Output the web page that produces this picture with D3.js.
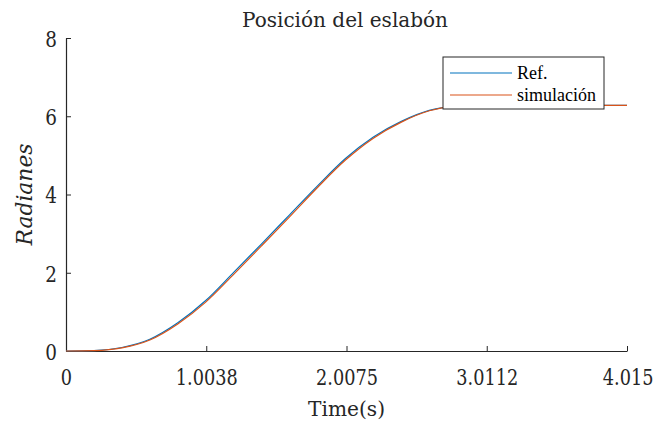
<!DOCTYPE html>
<html>
<head>
<meta charset="utf-8">
<script src="https://cdn.jsdelivr.net/npm/d3@7"></script>
<style>
  body { margin: 0; background: #fff; }
  svg text { font-family: "DejaVu Serif", serif; fill: #262626; }
  svg text.legend { font-family: "Liberation Serif", "Times New Roman", serif; font-size: 18px; fill: #000; }
</style>
</head>
<body>
<svg id="chart"></svg>
<script>
const W = 655, H = 423;
const margin = {top: 38, right: 28, bottom: 72, left: 66};
const width = W - margin.left - margin.right;
const height = H - margin.top - margin.bottom;

// data
const time = [0, 0.2, 0.4, 0.6, 0.8, 1.0, 1.2, 1.4, 1.6, 1.8, 2.0, 2.2, 2.4, 2.6, 2.8, 3.0, 3.2, 3.4, 3.6, 3.8, 4.0, 4.015];
const refPos = [0, 0.01, 0.09, 0.30, 0.72, 1.29, 2.01, 2.74, 3.48, 4.22, 4.92, 5.47, 5.87, 6.15, 6.26, 6.28, 6.28, 6.28, 6.28, 6.28, 6.28, 6.28];
const simPos = [0, 0.01, 0.08, 0.28, 0.69, 1.25, 1.96, 2.69, 3.43, 4.18, 4.88, 5.44, 5.85, 6.14, 6.26, 6.28, 6.28, 6.28, 6.28, 6.28, 6.28, 6.28];
const xTicks = [0, 1.0038, 2.0075, 3.0112, 4.015];
const xTickLabels = ["0", "1.0038", "2.0075", "3.0112", "4.015"];
const yTicks = [0, 2, 4, 6, 8];
const seriesNames = ["Ref.", "simulación"];
const seriesColors = ["#0072BD", "#D95319"];

const svg = d3.select("#chart")
    .attr("width", W)
    .attr("height", H);

const g = svg.append("g")
    .attr("transform", `translate(${margin.left},${margin.top})`);

const x = d3.scaleLinear().domain([0, 4.015]).range([0, width]);
const y = d3.scaleLinear().domain([0, 8]).range([height, 0]);

// DejaVu Serif is wider than the Times-like original, squeeze it
function squeeze(sel, k) {
    sel.each(function() {
        const len = this.getComputedTextLength();
        d3.select(this)
            .attr("textLength", len * k)
            .attr("lengthAdjust", "spacingAndGlyphs");
    });
}

// axes, ticks pointing inward
const xAxis = g.append("g")
    .attr("transform", `translate(0,${height})`)
    .call(d3.axisBottom(x).tickValues(xTicks).tickFormat((d, i) => xTickLabels[i]).tickSizeInner(-5).tickSizeOuter(0));
const yAxis = g.append("g")
    .call(d3.axisLeft(y).tickValues(yTicks).tickFormat(d3.format("d")).tickSizeInner(-5).tickSizeOuter(0));

[xAxis, yAxis].forEach(a => {
    a.attr("font-family", null).attr("font-size", null);
    a.select(".domain").attr("stroke", "#262626").attr("stroke-width", 1.2);
    a.selectAll(".tick line").attr("stroke", "#262626").attr("stroke-width", 1);
    a.selectAll(".tick text")
        .style("font-size", "23px")
        .attr("fill", "#262626");
});
xAxis.selectAll(".tick text").attr("y", 34).attr("dy", null);
yAxis.selectAll(".tick text").attr("x", -9).attr("dy", "0.36em");
squeeze(xAxis.selectAll(".tick text"), 0.77);
squeeze(yAxis.selectAll(".tick text"), 0.8);

// last x label sits against the right edge, anchor it at its end
xAxis.selectAll(".tick text")
    .filter((d, i) => i === xTicks.length - 1)
    .attr("text-anchor", "end")
    .attr("x", 26);

// lines
const line = d3.line()
    .x((d, i) => x(time[i]))
    .y(d => y(d))
    .curve(d3.curveMonotoneX);

[refPos, simPos].forEach((s, k) => {
    g.append("path")
        .datum(s)
        .attr("fill", "none")
        .attr("stroke", seriesColors[k])
        .attr("stroke-width", 1.2)
        .attr("d", line);
});

// title and labels
svg.append("text")
    .attr("x", 345)
    .attr("y", 27)
    .attr("text-anchor", "middle")
    .style("font-size", "20px")
    .attr("fill", "#000")
    .attr("textLength", 206)
    .attr("lengthAdjust", "spacingAndGlyphs")
    .text("Posición del eslabón");

svg.append("text")
    .attr("x", margin.left + width / 2)
    .attr("y", 416)
    .attr("text-anchor", "middle")
    .style("font-size", "21px")
    .attr("textLength", 77)
    .attr("lengthAdjust", "spacingAndGlyphs")
    .text("Time(s)");

svg.append("text")
    .attr("transform", `translate(32,${margin.top + height / 2}) rotate(-90)`)
    .attr("text-anchor", "middle")
    .style("font-size", "22px")
    .style("font-style", "italic")
    .attr("textLength", 102)
    .attr("lengthAdjust", "spacingAndGlyphs")
    .text("Radianes");

// legend
const lg = svg.append("g").attr("transform", "translate(443,57)");
lg.append("rect")
    .attr("width", 161)
    .attr("height", 52)
    .attr("fill", "#fff")
    .attr("stroke", "#262626")
    .attr("stroke-width", 1);
seriesNames.forEach((name, i) => {
    const yy = 16 + i * 22;
    lg.append("line")
        .attr("x1", 7).attr("x2", 69)
        .attr("y1", yy).attr("y2", yy)
        .attr("stroke", seriesColors[i])
        .attr("stroke-width", 1.2);
    lg.append("text")
        .attr("class", "legend")
        .attr("x", 74)
        .attr("y", yy + 6)
        .text(name);
});
</script>
</body>
</html>
